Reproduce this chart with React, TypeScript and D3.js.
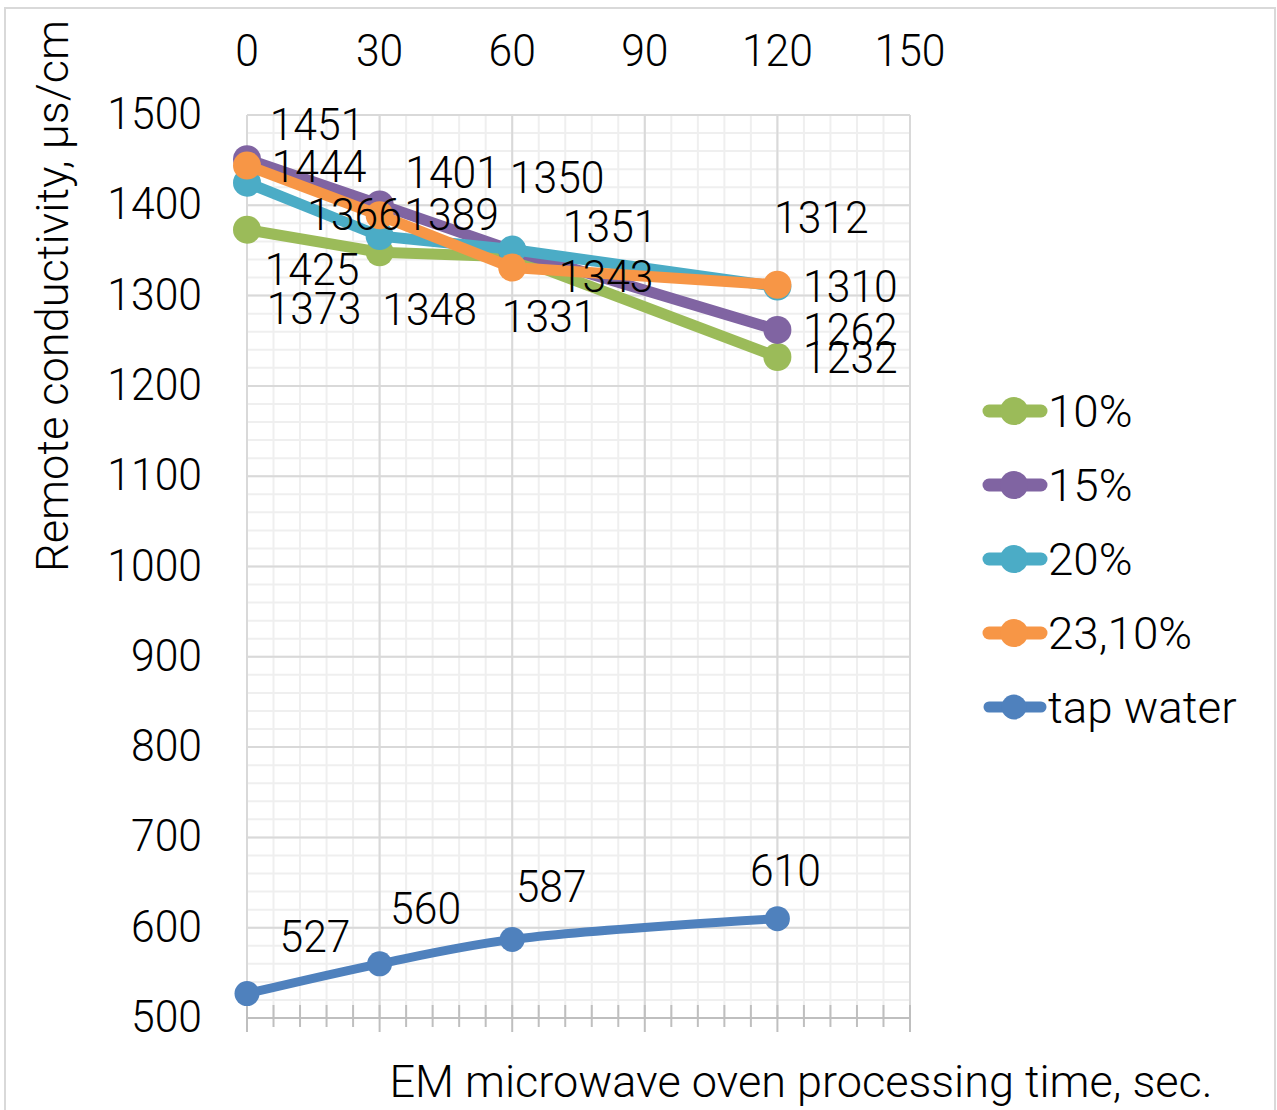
import React from "react";
import * as d3 from "d3";

const X_VALUES = [0, 30, 60, 120];
const SERIES_NAMES = ["10%", "15%", "20%", "23,10%", "tap water"];
const S10 = [1373, 1348, 1343, 1232];
const S15 = [1451, 1401, 1350, 1262];
const S20 = [1425, 1366, 1351, 1310];
const S23 = [1444, 1389, 1331, 1312];
const TAP = [527, 560, 587, 610];
const X_TICKS = [0, 30, 60, 90, 120, 150];
const Y_TICKS = [500, 600, 700, 800, 900, 1000, 1100, 1200, 1300, 1400, 1500];
const X_TITLE = "EM microwave oven processing time, sec.";
const Y_TITLE = "Remote conductivity, μs/cm";

// styling
const COLORS = ["#9BBB59", "#8064A2", "#4BACC6", "#F79646", "#4F81BD"];
const LABEL_OFFSETS = [
  [[67, 78], [50, 57], [94, 19], [73, 0]],
  [[70, -35], [73, -32], [45, -73], [73, -1]],
  [[65, 86], [-25, -22], [98, -24], [73, -1]],
  [[72, 0], [72, -1], [37, 48], [44, -68]],
  [[68, -58], [46, -56], [39, -53], [8, -49]],
];
const FONT = "Roboto, 'Open Sans', sans-serif";
const FS = 44;
const SX = 0.97;
const SX_LEGEND = 1.04;
const CAP = 16;

const Txt = ({ x, y, anchor = "middle", sx = SX, children }: any) => (
  <g transform={`translate(${x},${y + CAP}) scale(${sx},1)`}>
    <text x={0} y={0} textAnchor={anchor} fontFamily={FONT} fontWeight={300} fontSize={FS} fill="#000">
      {children}
    </text>
  </g>
);

export default function App() {
  const x = d3.scaleLinear().domain([0, 150]).range([247, 910]);
  const y = d3.scaleLinear().domain([500, 1500]).range([1018, 115]);
  const series = [S10, S15, S20, S23, TAP];

  const minorX = d3.range(0, 151, 6);
  const minorY = d3.range(500, 1501, 20);

  const straight = d3.line<number>().x((_, i) => x(X_VALUES[i])).y((v) => y(v));
  const smooth = d3
    .line<number>()
    .x((_, i) => x(X_VALUES[i]))
    .y((v) => y(v))
    .curve(d3.curveCatmullRom.alpha(0.5));

  const [x0, x1] = x.range();
  const [yb, yt] = y.range();

  return (
    <svg width={1277} height={1110} style={{ position: "absolute", left: 0, top: 0, background: "#fff" }}>
      <rect x={5} y={8} width={1270} height={1110} fill="#fff" stroke="#d9d9d9" strokeWidth={2} />
      {/* minor grid */}
      {minorX.map((v) => (
        <line key={"mx" + v} x1={x(v)} x2={x(v)} y1={yt} y2={yb} stroke="#efefef" strokeWidth={2} />
      ))}
      {minorY.map((v) => (
        <line key={"my" + v} x1={x0} x2={x1} y1={y(v)} y2={y(v)} stroke="#efefef" strokeWidth={2} />
      ))}
      {/* major grid */}
      {X_TICKS.map((v) => (
        <line key={"gx" + v} x1={x(v)} x2={x(v)} y1={yt} y2={yb} stroke="#d9d9d9" strokeWidth={2} />
      ))}
      {Y_TICKS.map((v) => (
        <line key={"gy" + v} x1={x0} x2={x1} y1={y(v)} y2={y(v)} stroke="#d9d9d9" strokeWidth={2} />
      ))}
      {/* bottom axis */}
      <line x1={x0} x2={x1} y1={yb} y2={yb} stroke="#bfbfbf" strokeWidth={2} />
      {minorX.map((v) => (
        <line
          key={"tk" + v}
          x1={x(v)}
          x2={x(v)}
          y1={yb - 13}
          y2={v % 30 === 0 ? yb + 14 : yb + 9}
          stroke="#bfbfbf"
          strokeWidth={2}
        />
      ))}
      {/* tick labels */}
      {X_TICKS.map((v) => (
        <Txt key={"xl" + v} x={x(v)} y={50}>
          {v}
        </Txt>
      ))}
      {Y_TICKS.map((v) => (
        <Txt key={"yl" + v} x={202} y={y(v) - 2} anchor="end">
          {v}
        </Txt>
      ))}
      {/* series */}
      {series.map((s, si) => (
        <g key={"s" + si}>
          <path
            d={(si === 4 ? smooth : straight)(s) || ""}
            fill="none"
            stroke={COLORS[si]}
            strokeWidth={si === 4 ? 9 : 11}
            strokeLinejoin="round"
            strokeLinecap="round"
          />
          {s.map((v, i) => (
            <circle key={i} cx={x(X_VALUES[i])} cy={y(v)} r={si === 4 ? 12.5 : 14} fill={COLORS[si]} />
          ))}
        </g>
      ))}
      {/* data labels */}
      {series.map((s, si) =>
        s.map((v, i) => (
          <Txt
            key={"dl" + si + "_" + i}
            x={x(X_VALUES[i]) + LABEL_OFFSETS[si][i][0]}
            y={y(v) + LABEL_OFFSETS[si][i][1]}
          >
            {v}
          </Txt>
        ))
      )}
      {/* legend */}
      {SERIES_NAMES.map((name, i) => {
        const ly = 411 + i * 74;
        const tap = i === 4;
        return (
          <g key={"lg" + i}>
            <line
              x1={989}
              x2={1041}
              y1={ly}
              y2={ly}
              stroke={COLORS[i]}
              strokeWidth={tap ? 11 : 13}
              strokeLinecap="round"
            />
            <circle cx={1014} cy={ly} r={tap ? 12.5 : 14} fill={COLORS[i]} />
            <Txt x={1048} y={ly} anchor="start" sx={SX_LEGEND}>
              {name}
            </Txt>
          </g>
        );
      })}
      {/* axis titles */}
      <text
        x={801}
        y={1081 + CAP}
        textAnchor="middle"
        fontFamily={FONT}
        fontWeight={300}
        fontSize={FS}
        textLength={823}
        lengthAdjust="spacingAndGlyphs"
      >
        {X_TITLE}
      </text>
      <text
        transform={`translate(${52 + CAP},296) rotate(-90)`}
        x={0}
        y={0}
        textAnchor="middle"
        fontFamily={FONT}
        fontWeight={300}
        fontSize={FS}
        textLength={552}
        lengthAdjust="spacingAndGlyphs"
      >
        {Y_TITLE}
      </text>
    </svg>
  );
}
